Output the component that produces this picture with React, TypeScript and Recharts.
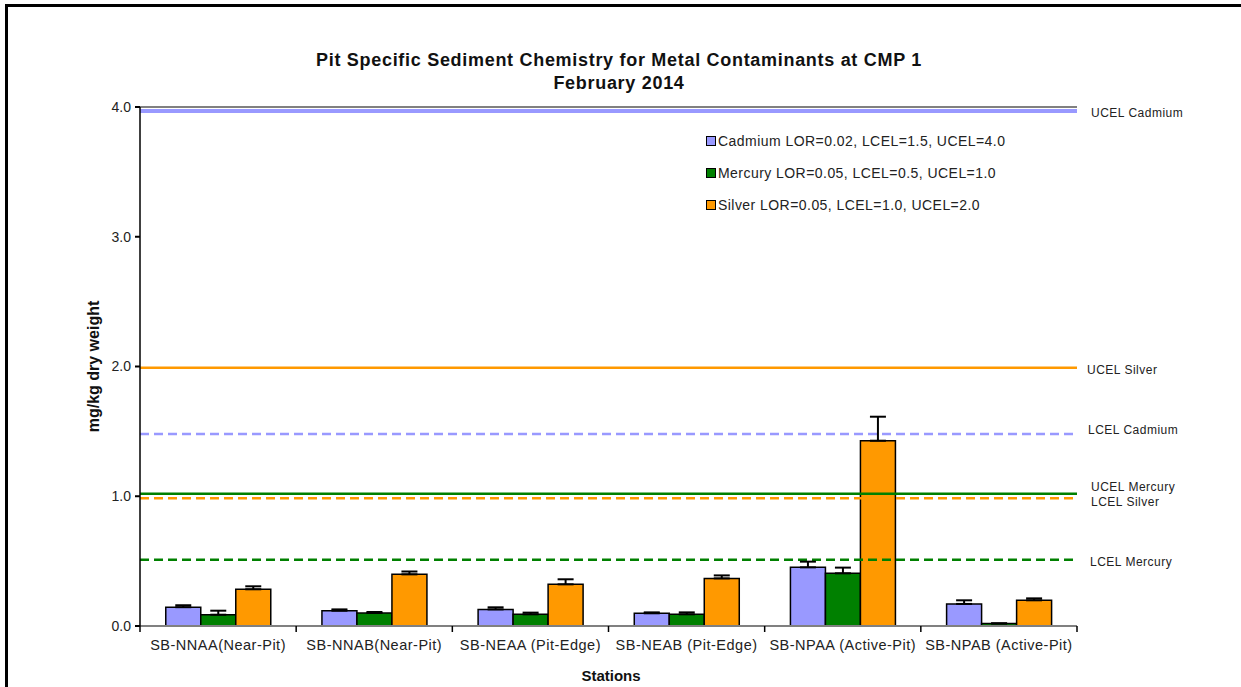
import React from "react";
import {
  BarChart,
  Bar,
  XAxis,
  YAxis,
  ErrorBar,
  ReferenceLine,
  Legend,
} from "recharts";

const stations = [
  "SB-NNAA(Near-Pit)",
  "SB-NNAB(Near-Pit)",
  "SB-NEAA (Pit-Edge)",
  "SB-NEAB (Pit-Edge)",
  "SB-NPAA (Active-Pit)",
  "SB-NPAB (Active-Pit)",
];

const cadmium = [0.145, 0.118, 0.128, 0.098, 0.452, 0.17];
const cadmiumErr = [0.015, 0.01, 0.016, 0.007, 0.044, 0.028];
const mercury = [0.087, 0.1, 0.09, 0.09, 0.406, 0.02];
const mercuryErr = [0.031, 0.008, 0.013, 0.015, 0.044, 0];
const silver = [0.283, 0.398, 0.321, 0.367, 1.428, 0.198];
const silverErr = [0.023, 0.022, 0.039, 0.023, 0.185, 0.015];

const yTicks = [0, 1, 2, 3, 4];

const legendNames = [
  "Cadmium LOR=0.02, LCEL=1.5, UCEL=4.0",
  "Mercury LOR=0.05, LCEL=0.5, UCEL=1.0",
  "Silver LOR=0.05, LCEL=1.0, UCEL=2.0",
];

// guideline levels as drawn on the chart
const limitNames = ["UCEL Cadmium", "UCEL Silver", "LCEL Cadmium", "UCEL Mercury", "LCEL Silver", "LCEL Mercury"];
const limitValues = [3.97, 1.99, 1.48, 1.02, 0.985, 0.51];

const CD = "#9999FF";
const HG = "#008000";
const AG = "#FF9900";
const FONT = "'Liberation Sans', Arial, sans-serif";

const limitStyle: Record<string, { color: string; dash?: string; width: number; dy: number; off: number }> = {
  "UCEL Cadmium": { color: CD, width: 4, dy: 2, off: 14 },
  "UCEL Silver": { color: AG, width: 2.5, dy: 2, off: 10 },
  "LCEL Cadmium": { color: CD, dash: "9 5", width: 2.5, dy: -4, off: 11 },
  "UCEL Mercury": { color: HG, width: 2.5, dy: -7, off: 14 },
  "LCEL Silver": { color: AG, dash: "9 5", width: 2.5, dy: 4, off: 14 },
  "LCEL Mercury": { color: HG, dash: "9 5", width: 2.5, dy: 2, off: 13 },
};

const PLOT_LEFT = 140;
const PLOT_RIGHT = 1077;
const HALF_BAND = (PLOT_RIGHT - PLOT_LEFT) / stations.length / 2;

const data = stations.map((s, i) => ({
  station: s,
  cadmium: cadmium[i],
  cadmiumErr: [0, cadmiumErr[i]],
  mercury: mercury[i],
  mercuryErr: [0, mercuryErr[i]],
  silver: silver[i],
  silverErr: [0, silverErr[i]],
}));

function StationTick(props: any) {
  const { x, y, payload, index } = props;
  return (
    <g>
      <line x1={x - HALF_BAND} x2={x - HALF_BAND} y1={y} y2={y + 6} stroke="#000" strokeWidth={1.5} />
      {index === stations.length - 1 && (
        <line x1={x + HALF_BAND} x2={x + HALF_BAND} y1={y} y2={y + 6} stroke="#000" strokeWidth={1.5} />
      )}
      <text
        x={x}
        y={y + 24}
        textAnchor="middle"
        fontSize={14.5}
        letterSpacing={0.5}
        fill="#222"
        fontFamily={FONT}
      >
        {payload.value}
      </text>
    </g>
  );
}

function LegendBox() {
  const colors = [CD, HG, AG];
  return (
    <div style={{ fontFamily: FONT, fontSize: 14, letterSpacing: 0.45, color: "#222", textAlign: "left" }}>
      {legendNames.map((n, i) => (
        <div key={n} style={{ display: "flex", alignItems: "center", height: 32, whiteSpace: "nowrap" }}>
          <span
            style={{
              display: "inline-block",
              width: 8,
              height: 8,
              background: colors[i],
              border: "1px solid #000",
              marginRight: 2,
            }}
          />
          {n}
        </div>
      ))}
    </div>
  );
}

export default function App() {
  return (
    <div
      style={{
        position: "absolute",
        left: 0,
        top: 0,
        width: 1241,
        height: 687,
        overflow: "hidden",
        background: "#fff",
        fontFamily: FONT,
      }}
    >
      <div
        style={{
          position: "absolute",
          left: 5,
          top: 4,
          width: 1260,
          height: 700,
          border: "3px solid #000",
        }}
      />
      <div
        style={{
          position: "absolute",
          left: 0,
          width: 1238,
          top: 49,
          textAlign: "center",
          fontWeight: "bold",
          fontSize: 18,
          letterSpacing: 0.7,
          lineHeight: "23px",
          color: "#111",
        }}
      >
        Pit Specific Sediment Chemistry for Metal Contaminants at CMP 1
        <br />
        February 2014
      </div>
      <div
        style={{
          position: "absolute",
          left: 0,
          width: 1222,
          top: 667,
          textAlign: "center",
          fontWeight: "bold",
          fontSize: 15,
          color: "#111",
        }}
      >
        Stations
      </div>
      <div style={{ position: "absolute", left: 0, top: 0 }}>
        <BarChart
          width={1241}
          height={687}
          data={data}
          margin={{ top: 107, right: 164, bottom: 0, left: 80 }}
          barCategoryGap="16.5%"
          barGap={0}
        >
          <XAxis
            dataKey="station"
            height={61}
            axisLine={{ stroke: "#808080", strokeWidth: 2 }}
            tickLine={false}
            tickSize={0}
            tickMargin={0}
            interval={0}
            tick={<StationTick />}
          />
          <YAxis
            width={60}
            domain={[0, 4]}
            ticks={yTicks}
            tickFormatter={(v: number) => v.toFixed(1)}
            tick={{ fontSize: 14, fill: "#222", fontFamily: FONT }}
            tickSize={5}
            tickMargin={4}
            axisLine={{ stroke: "#000", strokeWidth: 1.5 }}
            tickLine={{ stroke: "#000", strokeWidth: 2 }}
            label={{
              value: "mg/kg dry weight",
              angle: -90,
              position: "insideLeft",
              offset: 13,
              style: {
                fontSize: 16,
                fontWeight: "bold",
                fill: "#111",
                fontFamily: FONT,
                textAnchor: "middle",
              },
            }}
          />
          <YAxis
            yAxisId="frame"
            orientation="right"
            width={0}
            domain={[0, 4]}
            tick={false}
            tickLine={false}
            axisLine={{ stroke: "#808080", strokeWidth: 3 }}
          />
          <ReferenceLine y={4} stroke="#808080" strokeWidth={2} />
          {limitNames.map((n, i) => {
            const st = limitStyle[n];
            return (
              <ReferenceLine
                key={n}
                y={limitValues[i]}
                stroke={st.color}
                strokeWidth={st.width}
                strokeDasharray={st.dash}
                label={{
                  value: n,
                  position: "right",
                  offset: st.off,
                  dy: st.dy,
                  style: { fontSize: 12, letterSpacing: 0.5, fill: "#222", fontFamily: FONT },
                }}
              />
            );
          })}
          <Legend
            layout="vertical"
            align="center"
            verticalAlign="middle"
            content={<LegendBox />}
            wrapperStyle={{ position: "absolute", left: 706, top: 125, width: 360 }}
          />
          <Bar dataKey="cadmium" fill={CD} stroke="#000" strokeWidth={1.5} isAnimationActive={false}>
            <ErrorBar dataKey="cadmiumErr" width={8} stroke="#000" strokeWidth={2} direction="y" />
          </Bar>
          <Bar dataKey="mercury" fill={HG} stroke="#000" strokeWidth={1.5} isAnimationActive={false}>
            <ErrorBar dataKey="mercuryErr" width={8} stroke="#000" strokeWidth={2} direction="y" />
          </Bar>
          <Bar dataKey="silver" fill={AG} stroke="#000" strokeWidth={1.5} isAnimationActive={false}>
            <ErrorBar dataKey="silverErr" width={8} stroke="#000" strokeWidth={2} direction="y" />
          </Bar>
        </BarChart>
      </div>
    </div>
  );
}
